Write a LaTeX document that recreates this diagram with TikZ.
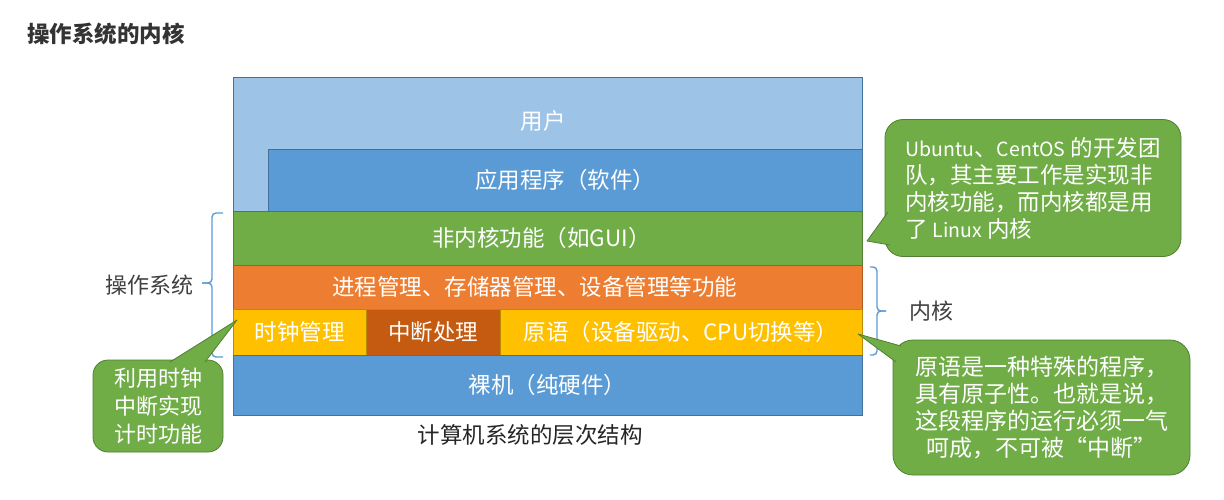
\documentclass[tikz,border=0pt]{standalone}
\usepackage{fontspec}
\setmainfont{Noto Sans CJK SC}
\definecolor{cUser}{HTML}{9DC3E6}
\definecolor{cBlue}{HTML}{5B9BD5}
\definecolor{cBlueD}{HTML}{41719C}
\definecolor{cGreen}{HTML}{70AD47}
\definecolor{cGreenD}{HTML}{507E32}
\definecolor{cOrange}{HTML}{ED7D31}
\definecolor{cOrangeD}{HTML}{AE5A21}
\definecolor{cYellow}{HTML}{FFC000}
\definecolor{cYellowD}{HTML}{BC8C00}
\definecolor{cRust}{HTML}{C55A11}
\definecolor{cText}{HTML}{404040}
\definecolor{cTitle}{HTML}{333333}
\newcommand\bxfont{\fontsize{22.5pt}{27pt}\selectfont}
\newcommand\clfont{\fontsize{23pt}{27pt}\selectfont}
\newcommand\latw[1]{{\fontsize{19.5pt}{27pt}\selectfont #1}}
\begin{document}
\begin{tikzpicture}[x=1pt,y=-1pt,
  layer/.style={rectangle, draw=#1, line width=0.8pt, inner sep=0pt, outer sep=0pt,
    anchor=north west, text=white, font=\bxfont},
  callbody/.style={rectangle, rounded corners=#1, fill=cGreen, draw=cGreenD,
    line width=0.8pt, inner sep=0pt, text=white, font=\clfont},
  callfill/.style={fill=cGreen},
  callline/.style={draw=cGreenD, line width=0.8pt, line join=round},
  bracket/.style={draw=cBlue, line width=1.4pt, rounded corners=4pt},
  lbl/.style={text=cText, font=\fontsize{22pt}{27pt}\selectfont, inner sep=0pt}]
\useasboundingbox (0,0) rectangle (1224,499);

% title
\node[anchor=west, inner sep=0pt, text=cTitle, font=\fontsize{22.5pt}{26pt}\selectfont\bfseries] (title) at (27,34) {操作系统的内核};

% layers
\node[layer=cBlueD, fill=cUser, minimum width=629pt, minimum height=134pt] (user) at (233,77) {};
\node[text=white, font=\bxfont, inner sep=0pt] (usertxt) at (543,121) {用户};
\node[layer=cBlueD, fill=cBlue, minimum width=594pt, minimum height=62pt] (app) at (268,149) {应用程序（软件）};
\node[layer=cGreenD, fill=cGreen, minimum width=629pt, minimum height=54pt] (nonk) at (233,211) {非内核功能（如GUI）\hspace*{12pt}};
\node[layer=cOrangeD, fill=cOrange, minimum width=629pt, minimum height=44pt] (mgmt) at (233,265) {进程管理、存储器管理、设备管理等功能\hspace*{26pt}};
\node[layer=cYellowD, fill=cYellow, minimum width=133pt, minimum height=46pt] (clock) at (233,309) {时钟管理};
\node[layer=cYellowD, fill=cRust, minimum width=134pt, minimum height=46pt] (intr) at (366,309) {中断处理};
\node[layer=cYellowD, fill=cYellow, minimum width=362pt, minimum height=46pt] (prim) at (500,309) {原语（设备驱动、CPU切换等）};
\node[layer=cBlueD, fill=cBlue, minimum width=629pt, minimum height=60pt] (bare) at (233,355) {裸机（纯硬件）};

\node[text=black!85, font=\bxfont, inner sep=0pt] (caption) at (530,435) {计算机系统的层次结构};

% brackets and labels
\draw[bracket] (223,213) -- (212,213) -- (212,283) -- (202,283);
\draw[bracket] (202,283) -- (212,283) -- (212,357) -- (223,357);
\node[lbl, anchor=east] (os) at (194,285) {操作系统};
\draw[bracket] (870,267) -- (877,267) -- (877,311) -- (886,311);
\draw[bracket] (886,311) -- (877,311) -- (877,355) -- (870,355);
\node[lbl, anchor=west] (kern) at (909,311) {内核};

% callout A (top right)
\node[callbody=18pt, minimum width=296pt, minimum height=137pt, align=left, font=\fontsize{22.5pt}{27pt}\selectfont] (calA) at (1033,188)
  {\latw{Ubuntu}、\latw{CentOS} 的开发团\\队，其主要工作是实现非\\内核功能，而内核都是用\\了 \latw{Linux} 内核\hspace*{8pt}};
\coordinate (tipA) at (867,241);
\fill[callfill] (888,212) -- (tipA) -- (890,245) -- cycle;
\draw[callline] (888,212) -- (tipA) -- (890,245);

% callout B (bottom right)
\node[callbody=20pt, minimum width=297pt, minimum height=135pt, align=center] (calB) at (1041.5,407.5)
  {原语是一种特殊的程序，\\具有原子性。也就是说，\\这段程序的运行必须一气\\呵成，不可被“中断”};
\coordinate (tipB) at (858,334);
\fill[callfill] (901,346) -- (tipB) -- (896,362) -- cycle;
\draw[callline] (901,346) -- (tipB) -- (896,362);

% callout C (left)
\node[callbody=15pt, minimum width=130pt, minimum height=92pt, align=center, font=\fontsize{22pt}{28pt}\selectfont] (calC) at (158,406)
  {利用时钟\\中断实现\\计时功能};
\coordinate (tipC) at (237,320);
\fill[callfill] (170,362) -- (tipC) -- (205,362) -- cycle;
\draw[callline] (170,362) -- (tipC) -- (205,362);
\end{tikzpicture}
\end{document}
